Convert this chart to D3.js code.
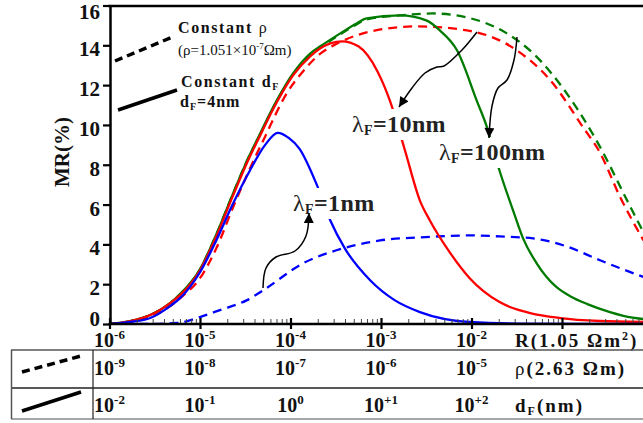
<!DOCTYPE html>
<html>
<head>
<meta charset="utf-8">
<script src="https://cdn.jsdelivr.net/npm/d3@7"></script>
<style>
body { margin: 0; background: #fff; }
svg { display: block; font-family: "Liberation Serif", "Times New Roman", serif; }
</style>
</head>
<body>
<div id="graph"></div>
<script>
// log10(R) positions and MR(%) values
const blueSolidLogR = [-6, -5.77, -5.55, -5.33, -5.22, -5, -4.82, -4.64, -4.45, -4.28, -4.14, -4.02, -3.9, -3.71, -3.56, -3.4, -3.12, -2.85, -2.57, -2.02, -1.46, -0.1];
const blueSolidMR   = [0, 0.1, 0.3, 0.9, 1.3, 2.6, 4.2, 6.0, 7.7, 9.0, 9.6, 9.35, 8.8, 7.0, 5.2, 3.8, 2.2, 1.2, 0.6, 0.1, 0.02, 0];

const redSolidLogR = [-6, -5.77, -5.55, -5.33, -5.22, -5, -4.82, -4.64, -4.45, -4.37, -4.15, -3.97, -3.78, -3.67, -3.56, -3.43, -3.25, -3.04, -2.9, -2.74, -2.57, -2.46, -2.24, -2.02, -1.69, -1.35, -1.02, -0.58, -0.1];
const redSolidMR   = [0, 0.15, 0.45, 1.05, 1.45, 2.7, 4.4, 6.4, 8.4, 9.15, 11.15, 12.5, 13.45, 13.85, 14.1, 14.2, 13.95, 12.7, 11.2, 8.8, 6.2, 5.2, 3.6, 2.3, 1.1, 0.55, 0.3, 0.15, 0.1];

const greenSolidLogR = [-6, -5.77, -5.55, -5.33, -5.22, -5, -4.82, -4.64, -4.45, -4.37, -4.15, -3.97, -3.78, -3.67, -3.45, -3.27, -3.16, -2.79, -2.5, -2.35, -2.16, -1.94, -1.83, -1.69, -1.54, -1.43, -1.28, -1.06, -0.91, -0.72, -0.47, -0.22, -0.1];
const greenSolidMR   = [0, 0.15, 0.45, 1.05, 1.5, 2.75, 4.5, 6.5, 8.5, 9.25, 11.25, 12.6, 13.6, 13.95, 14.6, 15.1, 15.35, 15.5, 15.25, 14.75, 13.75, 11.2, 9.9, 7.7, 5.7, 4.3, 3.05, 1.85, 1.4, 1.0, 0.6, 0.32, 0.25];

const blueDashLogR = [-6, -5.55, -5.25, -5, -4.78, -4.48, -4.3, -3.86, -3.42, -3.01, -2.57, -2.02, -1.69, -1.32, -0.95, -0.58, -0.1];
const blueDashMR   = [0, 0, 0.05, 0.35, 0.7, 1.2, 1.7, 3.05, 3.8, 4.2, 4.35, 4.45, 4.4, 4.3, 3.9, 3.2, 2.36];

const redDashLogR = [-6, -5.77, -5.55, -5.33, -5.22, -5, -4.82, -4.64, -4.45, -4.3, -4.04, -3.86, -3.67, -3.49, -3.27, -3.16, -2.6, -2.05, -1.5, -1.13, -0.77, -0.58, -0.36, -0.1];
const redDashMR   = [0, 0.1, 0.35, 0.9, 1.3, 2.3, 3.8, 5.8, 7.8, 9.23, 11.6, 12.7, 13.58, 14.08, 14.5, 14.65, 14.95, 14.75, 13.75, 12.25, 9.9, 8.6, 6.4, 4.2];

const greenDashLogR = [-6, -5.77, -5.55, -5.33, -5.22, -5, -4.82, -4.64, -4.45, -4.37, -4.15, -3.97, -3.78, -3.67, -3.45, -3.27, -3.16, -2.79, -2.43, -2.05, -1.61, -1.32, -0.95, -0.58, -0.28, -0.1];
const greenDashMR   = [0, 0.15, 0.45, 1.05, 1.5, 2.75, 4.5, 6.5, 8.5, 9.2, 11.2, 12.55, 13.55, 13.9, 14.55, 15.05, 15.3, 15.5, 15.6, 15.4, 14.6, 13.6, 11.6, 8.9, 6.2, 4.6];

// tick labels
const yTicks = [0, 2, 4, 6, 8, 10, 12, 14, 16];
const rExps = ["-6", "-5", "-4", "-3", "-2"];
const rhoExps = ["-9", "-8", "-7", "-6", "-5"];
const dfExps = ["-2", "-1", "0", "+1", "+2"];

const W = 643, H = 423;
const svg = d3.select("#graph").append("svg").attr("width", W).attr("height", H);

const x = d3.scaleLog().domain([1e-6, 1]).range([109.5, 109.5 + 6 * 90.5]);
const y = d3.scaleLinear().domain([0, 16]).range([324, 5.5]);

const defs = svg.append("defs");
defs.append("clipPath").attr("id", "plot")
  .append("rect").attr("x", 110).attr("y", 0).attr("width", W - 110).attr("height", 324);
defs.append("marker").attr("id", "head")
  .attr("markerUnits", "userSpaceOnUse")
  .attr("viewBox", "0 0 10 10").attr("refX", 10).attr("refY", 5)
  .attr("markerWidth", 11).attr("markerHeight", 10).attr("orient", "auto")
  .append("path").attr("d", "M0,0L10,5L0,10Z").attr("fill", "#000");

function series(logR, mr) {
  return logR.map((e, i) => ({r: Math.pow(10, e), v: mr[i]}));
}

const line = d3.line()
  .x(d => x(d.r))
  .y(d => y(d.v))
  .curve(d3.curveMonotoneX);

const curves = [
  {data: series(greenDashLogR, greenDashMR), color: "#007a00", dash: "9,6"},
  {data: series(redDashLogR, redDashMR), color: "#ff0000", dash: "9,6"},
  {data: series(blueDashLogR, blueDashMR), color: "#0000ff", dash: "9,6"},
  {data: series(greenSolidLogR, greenSolidMR), color: "#007a00", dash: null},
  {data: series(redSolidLogR, redSolidMR), color: "#ff0000", dash: null},
  {data: series(blueSolidLogR, blueSolidMR), color: "#0000ff", dash: null}
];

const plot = svg.append("g").attr("clip-path", "url(#plot)");
plot.selectAll("path.curve")
  .data(curves)
  .enter().append("path")
  .attr("class", "curve")
  .attr("fill", "none")
  .attr("stroke", d => d.color)
  .attr("stroke-width", 2.3)
  .attr("stroke-dasharray", d => d.dash)
  .attr("d", d => line(d.data));

// lambda labels with white backing that breaks the curves
function lambdaLabel(px, py, num) {
  const g = svg.append("g");
  const bg = g.append("rect").attr("fill", "#fff");
  const t = g.append("text").attr("x", px).attr("y", py)
    .attr("font-size", 24).attr("font-weight", "bold").attr("letter-spacing", 0.4).attr("fill", "#222");
  t.append("tspan").attr("font-weight", "normal").text("λ");
  t.append("tspan").attr("font-size", 14).attr("dy", 3).text("F");
  t.append("tspan").attr("dy", -3).text("=" + num + "nm");
  const b = t.node().getBBox();
  bg.attr("x", b.x - 2).attr("y", b.y - 2).attr("width", b.width + 4).attr("height", b.height + 4);
}
lambdaLabel(352, 132, "10");
lambdaLabel(439, 160, "100");
lambdaLabel(293, 211, "1");

// curvy arrows
const arrowLine = d3.line().curve(d3.curveCatmullRom);
const arrows = [
  [[477, 32], [462, 50], [444, 66], [437, 67], [425, 73], [412, 88], [399, 107]],
  [[517, 37], [514, 60], [507, 80], [498, 88], [492, 106], [489, 138]],
  [[263, 288], [266, 268], [276, 257], [295, 251], [306, 236], [309, 213]]
];
svg.selectAll("path.arrow")
  .data(arrows)
  .enter().append("path")
  .attr("class", "arrow")
  .attr("fill", "none")
  .attr("stroke", "#000")
  .attr("stroke-width", 1.5)
  .attr("marker-end", "url(#head)")
  .attr("d", d => arrowLine(d));

// axes
const yAxis = svg.append("g")
  .attr("transform", "translate(110,0)")
  .call(d3.axisLeft(y).tickValues(yTicks).tickSize(7).tickPadding(3).tickSizeOuter(0));
yAxis.select(".domain").attr("stroke-width", 2.5);
yAxis.selectAll(".tick line").attr("stroke-width", 2.2);
yAxis.selectAll(".tick text")
  .attr("font-family", "Liberation Serif, serif")
  .attr("font-size", 21).attr("font-weight", "bold").attr("fill", "#111")
  .attr("dy", d => d === 0 ? "0.05em" : d === 16 ? "0.62em" : "0.5em");

const majors = rExps.map(e => Math.pow(10, +e)).concat([0.1]);
const minors = [];
for (let p = -6; p < 0; p++) {
  for (let k = 2; k <= 9; k++) minors.push(k * Math.pow(10, p));
}

svg.append("g").attr("transform", "translate(0,324)")
  .call(d3.axisTop(x).tickValues(minors).tickSize(5).tickFormat(""))
  .call(g => g.select(".domain").remove())
  .selectAll(".tick line").attr("stroke", "#444").attr("stroke-width", 1);

svg.append("g").attr("transform", "translate(0,324)")
  .call(d3.axisBottom(x).tickValues(majors).tickSize(5).tickFormat(""))
  .call(g => g.select(".domain").remove())
  .selectAll(".tick line").attr("stroke-width", 2.2);
svg.append("g").attr("transform", "translate(0,324)")
  .call(d3.axisTop(x).tickValues(majors).tickSize(6).tickFormat(""))
  .call(g => g.select(".domain").remove())
  .selectAll(".tick line").attr("stroke-width", 2.2);

svg.append("line").attr("x1", 108.5).attr("x2", W).attr("y1", 324).attr("y2", 324)
  .attr("stroke", "#000").attr("stroke-width", 2.5);
svg.append("line").attr("x1", 108.5).attr("x2", W).attr("y1", 6).attr("y2", 6)
  .attr("stroke", "#000").attr("stroke-width", 2.5);

// power-of-ten labels
function powLabel(px, py, exp) {
  const t = svg.append("text").attr("x", px).attr("y", py)
    .attr("text-anchor", "middle").attr("font-size", 20).attr("font-weight", "bold").attr("fill", "#111");
  t.append("tspan").text("10");
  t.append("tspan").attr("dy", -8).attr("font-size", 13).text(exp);
}
rExps.forEach(e => powLabel(x(Math.pow(10, +e)), 347, e));
rhoExps.forEach((e, i) => powLabel(x(Math.pow(10, +rExps[i])), 375, e));
dfExps.forEach((e, i) => powLabel(x(Math.pow(10, +rExps[i])), 412, e));

// axis titles
svg.append("text")
  .attr("transform", "translate(69,152) rotate(-90)")
  .attr("text-anchor", "middle").attr("font-size", 21).attr("font-weight", "bold").attr("fill", "#111")
  .text("MR(%)");

const rTitle = svg.append("text").attr("x", 515).attr("y", 347)
  .attr("font-size", 19).attr("font-weight", "bold").attr("letter-spacing", 2).attr("fill", "#111");
rTitle.append("tspan").text("R(1.05 Ωm");
rTitle.append("tspan").attr("dy", -7).attr("font-size", 12).text("2");
rTitle.append("tspan").attr("dy", 7).text(")");

const rhoTitle = svg.append("text").attr("x", 515).attr("y", 375)
  .attr("font-size", 19).attr("font-weight", "bold").attr("letter-spacing", 2).attr("fill", "#111");
rhoTitle.append("tspan").attr("font-weight", "normal").text("ρ");
rhoTitle.append("tspan").text("(2.63 Ωm)");

const dTitle = svg.append("text").attr("x", 515).attr("y", 412)
  .attr("font-size", 19).attr("font-weight", "bold").attr("letter-spacing", 2).attr("fill", "#111");
dTitle.append("tspan").text("d");
dTitle.append("tspan").attr("dy", 3).attr("font-size", 12).text("F");
dTitle.append("tspan").attr("dy", -3).text("(nm)");

// table grid
const grid = svg.append("g").attr("stroke", "#555").attr("stroke-width", 1.5);
grid.append("line").attr("x1", 11).attr("x2", W).attr("y1", 350).attr("y2", 350);
grid.append("line").attr("x1", 11).attr("x2", W).attr("y1", 388).attr("y2", 388).attr("stroke", "#222");
grid.append("line").attr("x1", 11).attr("x2", W).attr("y1", 419).attr("y2", 419).attr("stroke", "#888");
grid.append("line").attr("x1", 11.5).attr("x2", 11.5).attr("y1", 350).attr("y2", 419);
grid.append("line").attr("x1", 93).attr("x2", 93).attr("y1", 350).attr("y2", 419).attr("stroke", "#222").attr("stroke-width", 1.2);

svg.append("line").attr("x1", 22).attr("y1", 372).attr("x2", 81).attr("y2", 356)
  .attr("stroke", "#000").attr("stroke-width", 3.5).attr("stroke-dasharray", "8,5");
svg.append("line").attr("x1", 22).attr("y1", 411).attr("x2", 81).attr("y2", 392)
  .attr("stroke", "#000").attr("stroke-width", 3.5);

// legend
svg.append("line").attr("x1", 115).attr("y1", 61).attr("x2", 175).attr("y2", 36)
  .attr("stroke", "#000").attr("stroke-width", 3.5).attr("stroke-dasharray", "8,5");
svg.append("line").attr("x1", 118).attr("y1", 110).attr("x2", 177).attr("y2", 90)
  .attr("stroke", "#000").attr("stroke-width", 3.5);

const l1 = svg.append("text").attr("x", 178).attr("y", 33)
  .attr("font-size", 16).attr("font-weight", "bold").attr("letter-spacing", 1.6).attr("fill", "#111");
l1.append("tspan").text("Constant ");
l1.append("tspan").attr("font-weight", "normal").text("ρ");

const l2 = svg.append("text").attr("x", 178).attr("y", 55)
  .attr("font-size", 15).attr("fill", "#111");
l2.append("tspan").text("(ρ=1.051×10");
l2.append("tspan").attr("dy", -6).attr("font-size", 9).text("-7");
l2.append("tspan").attr("dy", 6).text("Ωm)");

const l3 = svg.append("text").attr("x", 181).attr("y", 87)
  .attr("font-size", 16).attr("font-weight", "bold").attr("letter-spacing", 1.6).attr("fill", "#111");
l3.append("tspan").text("Constant d");
l3.append("tspan").attr("dy", 3).attr("font-size", 10).text("F");

const l4 = svg.append("text").attr("x", 180).attr("y", 107)
  .attr("font-size", 16).attr("font-weight", "bold").attr("letter-spacing", 1).attr("fill", "#111");
l4.append("tspan").text("d");
l4.append("tspan").attr("dy", 3).attr("font-size", 10).text("F");
l4.append("tspan").attr("dy", -3).text("=4nm");
</script>
</body>
</html>
